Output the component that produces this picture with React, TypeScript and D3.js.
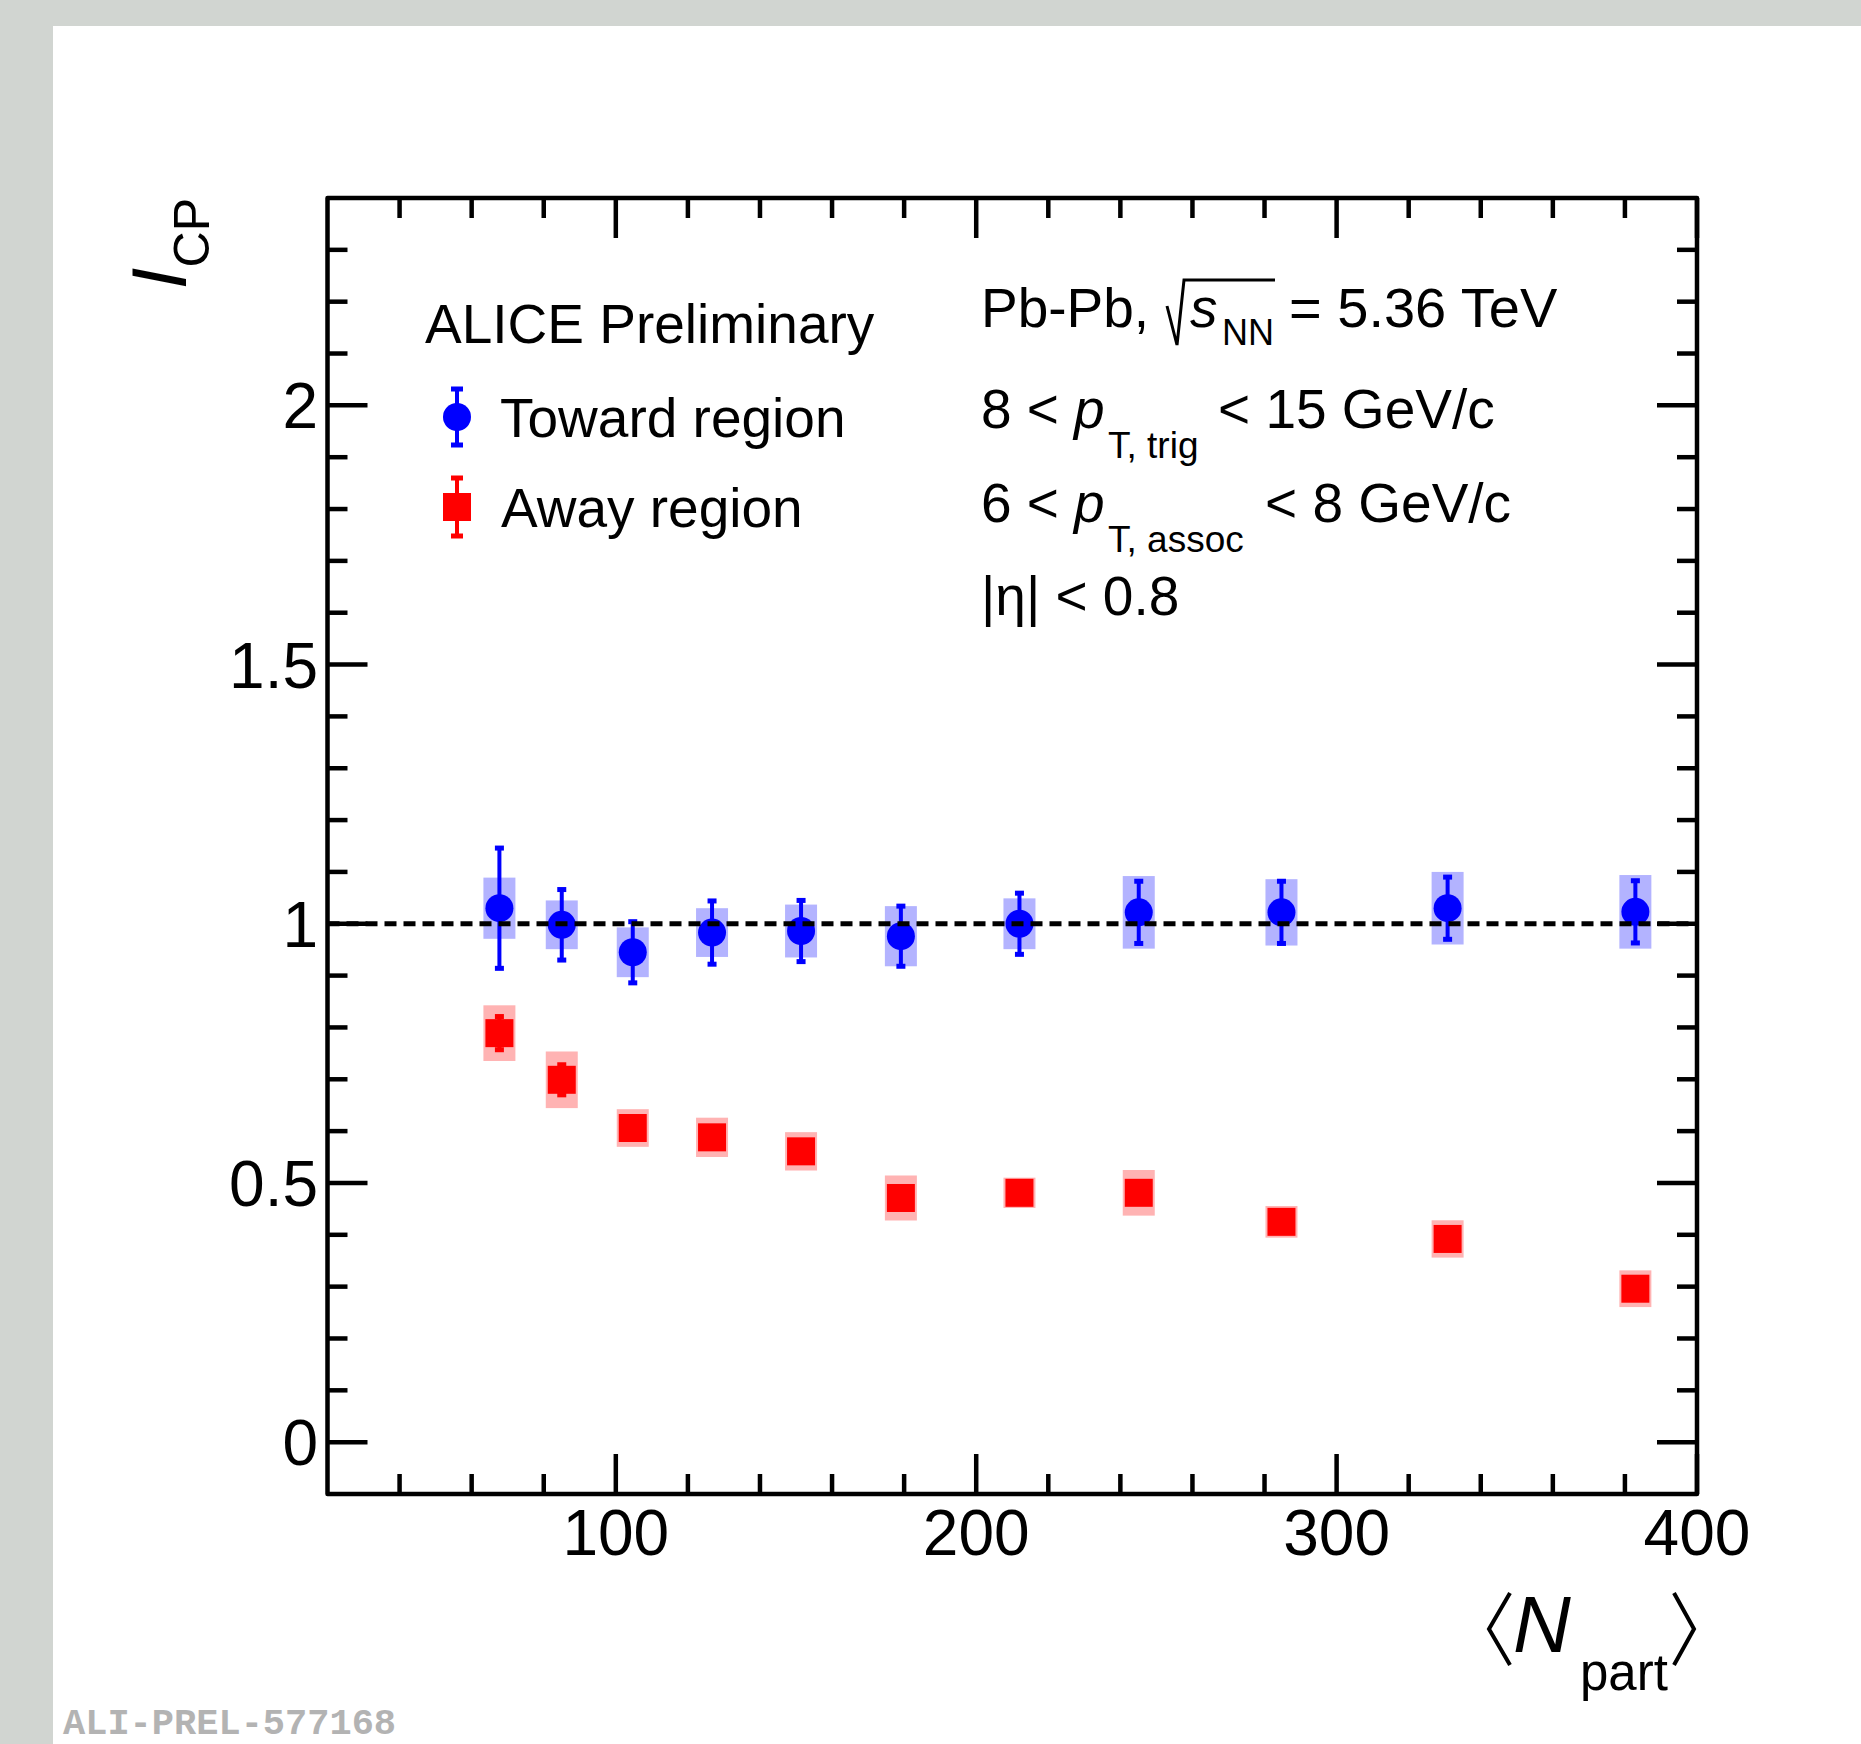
import React from "react";
import * as d3 from "d3";

// ---- Data ----
const NPART = [67.7, 85.0, 104.7, 126.7, 151.4, 179.1, 212.0, 245.1, 284.7, 330.8, 382.9];

const TOWARD = [1.03, 0.998, 0.945, 0.983, 0.986, 0.976, 1.0, 1.022, 1.022, 1.03, 1.023];
const TOWARD_STAT = [0.116, 0.068, 0.059, 0.061, 0.059, 0.058, 0.059, 0.06, 0.06, 0.06, 0.06];
const TOWARD_SYST = [0.059, 0.047, 0.048, 0.047, 0.051, 0.058, 0.049, 0.07, 0.064, 0.07, 0.071];

const AWAY = [0.789, 0.699, 0.606, 0.588, 0.561, 0.471, 0.481, 0.481, 0.425, 0.392, 0.296];
const AWAY_STAT = [0.032, 0.029, 0.02, 0.02, 0.02, 0.02, 0.015, 0.02, 0.015, 0.015, 0.015];
const AWAY_SYST = [0.0537, 0.0546, 0.0363, 0.0379, 0.037, 0.0434, 0.0292, 0.044, 0.0305, 0.036, 0.0354];

const X_DOMAIN = [20, 400];
const Y_DOMAIN = [-0.1, 2.4];
const X_MAJOR = [100, 200, 300, 400];
const X_LABELS = ["100", "200", "300", "400"];
const Y_MAJOR = [0, 0.5, 1, 1.5, 2];
const Y_LABELS = ["0", "0.5", "1", "1.5", "2"];

// ---- Layout ----
const W = 1861;
const H = 1744;
const L = 327.5, R = 1697, T = 198, B = 1494;
const FONT = "'Liberation Sans', Arial, Helvetica, sans-serif";
const BLUE = "#0000ff";
const RED = "#ff0000";
const BLUE_BOX = "#b3b3ff";
const RED_BOX = "#ffb3b3";

export default function App() {
  const x = d3.scaleLinear().domain(X_DOMAIN).range([L, R]);
  const y = d3.scaleLinear().domain(Y_DOMAIN).range([B, T]);

  const xMinor = d3.range(40, 400, 20).filter((v) => !X_MAJOR.includes(v));
  const yMinor = d3
    .range(0, 25)
    .map((i) => Math.round((-0.1 + i * 0.1) * 10) / 10)
    .filter((v) => v > -0.1 && v < 2.4 && !Y_MAJOR.some((m) => Math.abs(m - v) < 1e-6));

  const major = 40;
  const minor = 20;
  const sw = 4.5;
  const boxHalf = 16;
  const capW = 9;
  const capH = 5;

  const errBar = (cx: number, v: number, e: number, color: string, key: string, cw = capW) => (
    <g key={key}>
      <line x1={cx} x2={cx} y1={y(v - e)} y2={y(v + e)} stroke={color} strokeWidth={4} />
      <rect x={cx - cw / 2} y={y(v + e) - capH / 2} width={cw} height={capH} fill={color} />
      <rect x={cx - cw / 2} y={y(v - e) - capH / 2} width={cw} height={capH} fill={color} />
    </g>
  );

  return (
    <svg
      width={W}
      height={H}
      style={{ position: "absolute", left: 0, top: 0 }}
      fontFamily={FONT}
    >
      <rect x={0} y={0} width={W} height={H} fill="#d1d5d1" />
      <rect x={53} y={26} width={W - 53} height={H - 26} fill="#ffffff" />

      {/* systematic boxes */}
      {NPART.map((n, i) => (
        <rect
          key={"bs" + i}
          x={x(n) - boxHalf}
          y={y(TOWARD[i] + TOWARD_SYST[i])}
          width={boxHalf * 2}
          height={y(TOWARD[i] - TOWARD_SYST[i]) - y(TOWARD[i] + TOWARD_SYST[i])}
          fill={BLUE_BOX}
        />
      ))}
      {NPART.map((n, i) => (
        <rect
          key={"rs" + i}
          x={x(n) - boxHalf}
          y={y(AWAY[i] + AWAY_SYST[i])}
          width={boxHalf * 2}
          height={y(AWAY[i] - AWAY_SYST[i]) - y(AWAY[i] + AWAY_SYST[i])}
          fill={RED_BOX}
        />
      ))}

      {/* stat errors + markers */}
      {NPART.map((n, i) => errBar(x(n), TOWARD[i], TOWARD_STAT[i], BLUE, "be" + i))}
      {NPART.map((n, i) => (
        <circle key={"bm" + i} cx={x(n)} cy={y(TOWARD[i])} r={14} fill={BLUE} />
      ))}
      {NPART.map((n, i) => errBar(x(n), AWAY[i], AWAY_STAT[i], RED, "re" + i))}
      {NPART.map((n, i) => (
        <rect key={"rm" + i} x={x(n) - 14} y={y(AWAY[i]) - 14} width={28} height={28} fill={RED} />
      ))}

      {/* reference line at 1 */}
      <line
        x1={L}
        x2={R}
        y1={y(1)}
        y2={y(1)}
        stroke="#000"
        strokeWidth={5}
        strokeDasharray="12,7"
      />

      {/* ticks */}
      <g stroke="#000" strokeWidth={sw}>
        {X_MAJOR.map((v) => (
          <g key={"xM" + v}>
            <line x1={x(v)} x2={x(v)} y1={B} y2={B - major} />
            <line x1={x(v)} x2={x(v)} y1={T} y2={T + major} />
          </g>
        ))}
        {xMinor.map((v) => (
          <g key={"xm" + v}>
            <line x1={x(v)} x2={x(v)} y1={B} y2={B - minor} />
            <line x1={x(v)} x2={x(v)} y1={T} y2={T + minor} />
          </g>
        ))}
        {Y_MAJOR.map((v) => (
          <g key={"yM" + v}>
            <line x1={L} x2={L + major} y1={y(v)} y2={y(v)} />
            <line x1={R} x2={R - major} y1={y(v)} y2={y(v)} />
          </g>
        ))}
        {yMinor.map((v) => (
          <g key={"ym" + v}>
            <line x1={L} x2={L + minor} y1={y(v)} y2={y(v)} />
            <line x1={R} x2={R - minor} y1={y(v)} y2={y(v)} />
          </g>
        ))}
      </g>

      {/* frame */}
      <rect
        x={L}
        y={T}
        width={R - L}
        height={B - T}
        fill="none"
        stroke="#000"
        strokeWidth={sw}
        strokeLinejoin="round"
      />

      {/* tick labels */}
      {Y_MAJOR.map((v, i) => (
        <text key={"yl" + v} x={318} y={y(v) + 23} fontSize={64} textAnchor="end">
          {Y_LABELS[i]}
        </text>
      ))}
      {X_MAJOR.map((v, i) => (
        <text key={"xl" + v} x={x(v)} y={1555} fontSize={64} textAnchor="middle">
          {X_LABELS[i]}
        </text>
      ))}

      {/* axis titles */}
      <text transform={`translate(186,198) rotate(-90)`} textAnchor="end">
        <tspan fontStyle="italic" fontSize={78}>I</tspan>
        <tspan fontSize={50} dy={23}>CP</tspan>
      </text>
      <g>
        <path d="M1510,1593 L1489,1629 L1510,1665" fill="none" stroke="#000" strokeWidth={4} />
        <text x={1513} y={1652} fontSize={80} fontStyle="italic">N</text>
        <text x={1580} y={1690} fontSize={51}>part</text>
        <path d="M1674,1593 L1694,1629 L1674,1665" fill="none" stroke="#000" strokeWidth={4} />
      </g>

      {/* legend */}
      <text x={425} y={343} fontSize={55}>ALICE Preliminary</text>
      {errBar(457, y.invert(417), (y.invert(389) - y.invert(445)) / 2, BLUE, "lgb", 12)}
      <circle cx={457} cy={417} r={14} fill={BLUE} />
      <text x={500} y={437} fontSize={55}>Toward region</text>
      {errBar(457, y.invert(507), (y.invert(479) - y.invert(537)) / 2, RED, "lgr", 12)}
      <rect x={443} y={493} width={28} height={28} fill={RED} />
      <text x={501} y={527} fontSize={55}>Away region</text>

      {/* info text */}
      <text y={327} fontSize={55}>
        <tspan x={981}>Pb-Pb,</tspan>
        <tspan x={1190} fontStyle="italic">s</tspan>
        <tspan x={1222} dy={18} fontSize={36}>NN</tspan>
        <tspan x={1289} dy={-18} fontSize={56}>= 5.36 TeV</tspan>
      </text>
      <path d="M1167,306 L1177,345 L1184,280 L1275,280" fill="none" stroke="#000" strokeWidth={3} />

      <text y={428} fontSize={55}>
        <tspan x={981}>{"8 <"}</tspan>
        <tspan x={1074} fontStyle="italic">p</tspan>
        <tspan x={1108} dy={30} fontSize={37}>T, trig</tspan>
        <tspan x={1218} dy={-30}>{"< 15 GeV/c"}</tspan>
      </text>
      <text y={522} fontSize={55}>
        <tspan x={981}>{"6 <"}</tspan>
        <tspan x={1074} fontStyle="italic">p</tspan>
        <tspan x={1108} dy={30} fontSize={37}>T, assoc</tspan>
        <tspan x={1265} dy={-30}>{"< 8 GeV/c"}</tspan>
      </text>
      <text x={981} y={615} fontSize={55}>{"|η| < 0.8"}</text>

      {/* watermark */}
      <text
        x={63}
        y={1734}
        fontSize={37}
        fontWeight="bold"
        fill="#b3b3b3"
        fontFamily="'Liberation Mono', 'DejaVu Sans Mono', monospace"
      >
        ALI-PREL-577168
      </text>
    </svg>
  );
}
